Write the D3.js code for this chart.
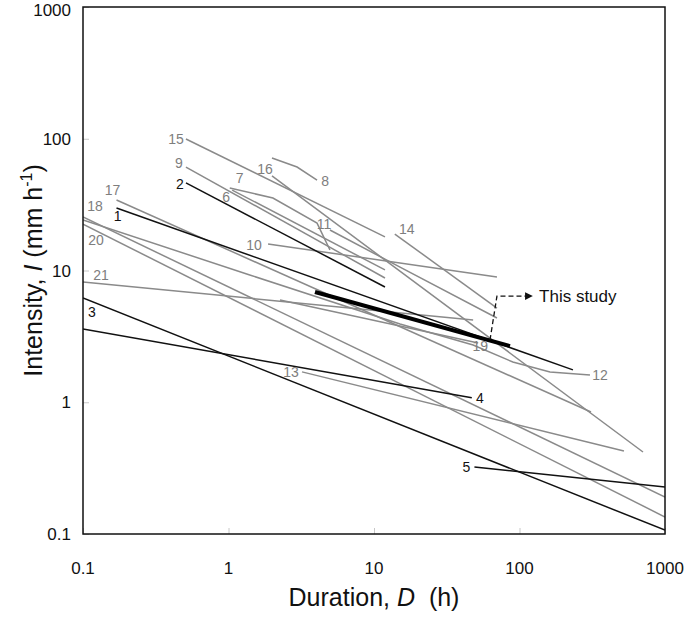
<!DOCTYPE html>
<html>
<head>
<meta charset="utf-8">
<script src="https://cdn.jsdelivr.net/npm/d3@7"></script>
<style>
  html, body { margin: 0; padding: 0; background: #fff; }
  svg { display: block; font-family: "Liberation Sans", Arial, sans-serif; }
</style>
</head>
<body>
<svg id="chart" width="685" height="617"></svg>
<script>
// ---- data (duration D in h, intensity I in mm/h) ----
const xTicks = [0.1, 1, 10, 100, 1000];
const yTicks = [0.1, 1, 10, 100, 1000];
const xTickLabels = ["0.1", "1", "10", "100", "1000"];
const yTickLabels = ["0.1", "1", "10", "100", "1000"];

const curveIds   = ["1","2","3","4","5","6","7","8","9","10","11","12","13","14","15","16","17","18","19","20","21"];
const curveColor = ["k","k","k","k","k","g","g","g","g","g","g","g","g","g","g","g","g","g","g","g","g"];
const curveD = [
  [0.17, 233],
  [0.51, 11.9],
  [0.1, 1000],
  [0.1, 47],
  [49, 1000],
  [1.06, 11.9],
  [1.02, 2.02, 4.06, 4.98],
  [1.99, 2.96, 4.06],
  [0.51, 11.9],
  [1.87, 70],
  [4.98, 15.1, 70],
  [0.1, 1.4, 15.1, 48, 90, 162, 305],
  [3.2, 522],
  [13.9, 70],
  [0.51, 11.9],
  [1.99, 706],
  [0.17, 310],
  [0.1, 1000],
  [2.26, 52],
  [0.1, 1000],
  [0.1, 48]
];
const curveI = [
  [29.8, 1.76],
  [46.2, 7.5],
  [6.18, 0.107],
  [3.6, 1.08],
  [0.322, 0.2275],
  [40.8, 10.1],
  [42.3, 35.5, 22.9, 14.3],
  [71.4, 61, 48.6],
  [61, 8.77],
  [15.9, 8.93],
  [20.3, 10.6, 4.36],
  [24.2, 9.24, 3.93, 2.72, 2.02, 1.70, 1.61],
  [1.70, 0.427],
  [18.9, 5.19],
  [99.6, 18.0],
  [52.2, 0.419],
  [34.3, 0.843],
  [25.5, 0.191],
  [5.97, 2.82],
  [22.5, 0.1346],
  [8.18, 4.21]
];
const studyD = [3.93, 86];
const studyI = [6.87, 2.67];
const studyLabel = "This study";
const arrowD = [62.7, 70, 122];
const arrowI = [2.97, 6.4, 6.4];

// ---- label placement (annotation layout, not data) ----
const labelAt = {
  "1": ["start", 1, 8], "2": ["start", -6, 1], "3": ["start", 9, 14], "4": ["end", 8, 0],
  "5": ["start", -8, 0], "6": ["start", -6, 7], "7": ["start", 10, -10], "8": ["end", 8, 1],
  "9": ["start", -7, -4], "10": ["start", -14, 1], "11": ["start", -6, -6], "12": ["end", 10, 0],
  "13": ["start", -11, 0], "14": ["start", 12, -5], "15": ["start", -10, 0], "16": ["start", -7, -7],
  "17": ["start", -4, -10], "18": ["start", 12, -11], "19": ["end", 2, 3], "20": ["start", 13, 16],
  "21": ["start", 18, -7]
};

const svg = d3.select("#chart");
const L = 83, R = 665, T = 7, B = 534;
const x = d3.scaleLog().domain([0.1, 1000]).range([L, R]);
const y = d3.scaleLog().domain([0.1, 1000]).range([B, T]);

const GRAY = "#8a8a8a", BLACK = "#111";

// inner tick marks (light grey)
const gx = svg.append("g").attr("transform", `translate(0,${B})`)
  .call(d3.axisBottom(x).tickValues(xTicks).tickSizeInner(-6).tickSizeOuter(0).tickFormat(""));
gx.select(".domain").remove();
gx.selectAll("line").attr("stroke", "#c8c8c8");
const gy = svg.append("g").attr("transform", `translate(${L},0)`)
  .call(d3.axisLeft(y).tickValues(yTicks).tickSizeInner(-6).tickSizeOuter(0).tickFormat(""));
gy.select(".domain").remove();
gy.selectAll("line").attr("stroke", "#c8c8c8");

// tick labels
svg.append("g").selectAll("text").data(xTicks).join("text")
  .attr("x", d => x(d)).attr("y", 574)
  .attr("text-anchor", "middle").attr("font-size", 17).attr("fill", "#111")
  .text((d, i) => xTickLabels[i]);
svg.append("g").selectAll("text").data(yTicks).join("text")
  .attr("x", 71).attr("y", d => Math.max(y(d) + 6, 16))
  .attr("text-anchor", "end").attr("font-size", 17).attr("fill", "#111")
  .text((d, i) => yTickLabels[i]);

// clip
svg.append("clipPath").attr("id", "clip").append("rect")
  .attr("x", L).attr("y", T).attr("width", R - L).attr("height", B - T);

const line = d3.line().x(d => x(d[0])).y(d => y(d[1]));
const plot = svg.append("g").attr("clip-path", "url(#clip)");

const curves = curveIds.map((id, i) => ({
  id, color: curveColor[i] === "k" ? BLACK : GRAY,
  pts: curveD[i].map((d, j) => [d, curveI[i][j]])
}));

// grey first, black above
const order = curves.filter(c => c.color === GRAY).concat(curves.filter(c => c.color === BLACK));
plot.selectAll("path.curve").data(order).join("path")
  .attr("class", "curve")
  .attr("d", c => line(c.pts))
  .attr("fill", "none")
  .attr("stroke", c => c.color)
  .attr("stroke-width", 1.5);

// this study
plot.append("path")
  .attr("d", line(studyD.map((d, j) => [d, studyI[j]])))
  .attr("fill", "none").attr("stroke", "#000").attr("stroke-width", 4);

// curve labels
svg.append("g").selectAll("text").data(curves).join("text")
  .attr("x", c => {
    const a = labelAt[c.id];
    const p = a[0] === "start" ? c.pts[0] : c.pts[c.pts.length - 1];
    return x(p[0]) + a[1];
  })
  .attr("y", c => {
    const a = labelAt[c.id];
    const p = a[0] === "start" ? c.pts[0] : c.pts[c.pts.length - 1];
    return y(p[1]) + a[2];
  })
  .attr("text-anchor", "middle").attr("dominant-baseline", "central")
  .attr("font-size", 14)
  .attr("fill", c => c.color === BLACK ? BLACK : "#7e7e7e")
  .text(c => c.id);

// arrow annotation
const apts = arrowD.map((d, j) => [x(d), y(arrowI[j])]);
svg.append("defs").append("marker")
  .attr("id", "arr").attr("viewBox", "0 0 10 10").attr("refX", 9).attr("refY", 5)
  .attr("markerWidth", 6).attr("markerHeight", 6).attr("orient", "auto")
  .append("path").attr("d", "M0,0 L10,5 L0,10 z").attr("fill", "#111");
svg.append("path")
  .attr("d", d3.line()(apts))
  .attr("fill", "none").attr("stroke", "#111").attr("stroke-width", 1.3)
  .attr("stroke-dasharray", "5,3").attr("marker-end", "url(#arr)");
svg.append("text")
  .attr("x", apts[2][0] + 7).attr("y", apts[2][1])
  .attr("dominant-baseline", "central")
  .attr("font-size", 17).attr("fill", "#111")
  .text(studyLabel);

// frame
svg.append("rect").attr("x", L).attr("y", T).attr("width", R - L).attr("height", B - T)
  .attr("fill", "none").attr("stroke", "#111").attr("stroke-width", 1.5);

// axis titles
const xt = svg.append("text").attr("x", (L + R) / 2).attr("y", 606)
  .attr("text-anchor", "middle").attr("font-size", 25).attr("fill", "#111")
  .style("white-space", "pre");
xt.append("tspan").text("Duration, ");
xt.append("tspan").attr("font-style", "italic").text("D");
xt.append("tspan").text("  (h)");

const yt = svg.append("text")
  .attr("transform", `translate(42,${(T + B) / 2}) rotate(-90)`)
  .attr("text-anchor", "middle").attr("font-size", 25).attr("fill", "#111")
  .style("white-space", "pre");
yt.append("tspan").text("Intensity, ");
yt.append("tspan").attr("font-style", "italic").text("I");
yt.append("tspan").text(" (mm h");
yt.append("tspan").attr("font-size", 16).attr("dy", -10).text("-1");
yt.append("tspan").attr("dy", 10).text(")");
</script>
</body>
</html>
